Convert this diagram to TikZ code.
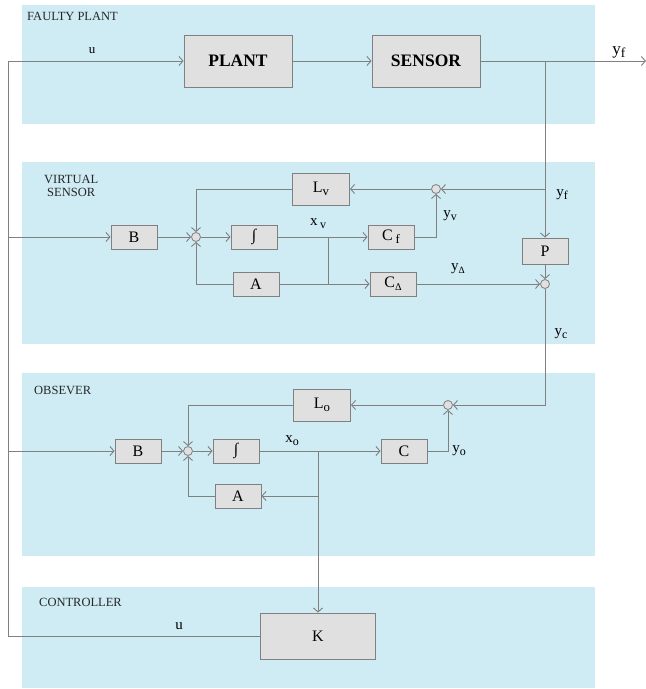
\documentclass[tikz,border=0pt]{standalone}
\usepackage{fontspec}
\setmainfont{Liberation Serif}
\usetikzlibrary{arrows.meta}
\definecolor{panel}{RGB}{207,235,244}
\definecolor{ln}{RGB}{128,128,128}
\definecolor{boxf}{RGB}{224,224,224}
\newcommand\mysb[1]{\raisebox{-0.45ex}{\scalebox{0.8}{#1}}}
\begin{document}
\begin{tikzpicture}[x=1pt,y=-1pt,
  blk/.style={draw=ln, fill=boxf, line width=0.9pt, inner sep=0pt, minimum width=46pt, minimum height=24pt, font=\fontsize{16}{16}\selectfont},
  bigblk/.style={blk, minimum width=108pt, minimum height=52pt, font=\bfseries\fontsize{17.5}{17.5}\selectfont},
  sumc/.style={circle, draw=ln, fill=boxf, line width=0.8pt, minimum size=9pt, inner sep=0pt},
  wire/.style={draw=ln, line width=0.9pt},
  arr/.style={wire, -{Straight Barb[length=4pt,width=9pt]}},
  ttl/.style={anchor=west, inner sep=0pt, text=black!85, font=\fontsize{12.5}{14}\selectfont},
  lbl/.style={inner sep=0pt, font=\fontsize{15}{15}\selectfont}
]
\useasboundingbox (0,0) rectangle (646,689);
% panels
\fill[panel] (22,5) rectangle (595,124);
\fill[panel] (22,162) rectangle (595,344);
\fill[panel] (22,373) rectangle (595,556);
\fill[panel] (22,587) rectangle (595,688);
% titles
\node[ttl] (t1) at (27,16) {FAULTY PLANT};
\node[ttl, align=left] (t2) at (44,186) {VIRTUAL\\[-1pt]\hspace*{3pt}SENSOR};
\node[ttl] (t3) at (34,390) {OBSEVER};
\node[ttl] (t4) at (39,602) {CONTROLLER};
% faulty plant
\node[bigblk] (plant) at (238,61) {PLANT};
\node[bigblk] (sensor) at (426,61) {SENSOR};
\coordinate (uc) at (8,61);
\coordinate (yfout) at (646,61);
% virtual sensor
\node[blk] (Bv) at (134,237) {B};
\node[sumc] (s1) at (196,237) {};
\node[blk] (Iv) at (254,237) {∫};
\node[blk] (Cf) at (391,237) {C\,\mysb{f}};
\node[blk] (Av) at (256,284) {A};
\node[blk] (Cd) at (393,284) {C\mysb{\scalebox{0.8}{Δ}}};
\node[blk, minimum width=57pt, minimum height=32pt] (Lv) at (321,189) {L\mysb{v}};
\node[sumc] (s2) at (436,189) {};
\node[blk, minimum height=26pt] (P) at (545,251) {P};
\node[sumc] (s3) at (545,284) {};
\coordinate (jv) at (328,237);
% observer
\node[blk] (Bo) at (138,451) {B};
\node[sumc] (s5) at (188,451) {};
\node[blk] (Io) at (236,451) {∫};
\node[blk] (Co) at (404,451) {C};
\node[blk] (Ao) at (238,496) {A};
\node[blk, minimum width=57pt, minimum height=32pt] (Lo) at (322,405) {L\mysb{o}};
\node[sumc] (s4) at (448,405) {};
\coordinate (jo) at (318,451);
% controller
\node[blk, minimum width=115pt, minimum height=46pt] (K) at (318,636) {K};
% wires: plant
\draw[wire] (K.west) -- (K.west -| uc) -- (uc);
\draw[arr] (uc) -- (plant);
\draw[arr] (plant) -- (sensor);
\draw[arr] (sensor) -- (yfout);
\draw[arr] (sensor.east -| P) -- (P);
% wires: virtual sensor
\draw[arr] (uc |- Bv) -- (Bv);
\draw[arr] (Bv) -- (s1);
\draw[arr] (s1) -- (Iv);
\draw[arr] (Iv) -- (Cf);
\draw[wire] (jv) -- (jv |- Av);
\draw[arr] (Av) -- (Cd);
\draw[arr] (Av.west) -| (s1);
\draw[arr] (Lv.west) -| (s1);
\draw[arr] (s2) -- (Lv);
\draw[arr] (Cf.east) -| (s2);
\draw[arr] (s2 -| P) -- (s2);
\draw[arr] (P) -- (s3);
\draw[arr] (Cd) -- (s3);
\draw[arr] (s3) |- (s4);
% wires: observer
\draw[arr] (uc |- Bo) -- (Bo);
\draw[arr] (Bo) -- (s5);
\draw[arr] (s5) -- (Io);
\draw[arr] (Io) -- (Co);
\draw[arr] (jo) -- (K);
\draw[arr] (jo |- Ao) -- (Ao);
\draw[arr] (Ao.west) -| (s5);
\draw[arr] (Lo.west) -| (s5);
\draw[arr] (Co.east) -| (s4);
\draw[arr] (s4) -- (Lo);
% labels
\node[lbl, font=\fontsize{13}{13}\selectfont] (lu1) at (92,51) {u};
\node[lbl, font=\fontsize{17}{17}\selectfont] (lyf1) at (619,52) {y\mysb{f}};
\node[lbl] (lxv) at (318,224) {x\,\mysb{v}};
\node[lbl] (lyv) at (450,216) {y\mysb{v}};
\node[lbl] (lyf2) at (562,195) {y\mysb{f}};
\node[lbl] (lyd) at (458,269) {y\mysb{\scalebox{0.8}{Δ}}};
\node[lbl] (lyc) at (561,334) {y\mysb{c}};
\node[lbl] (lxo) at (292,441) {x\mysb{o}};
\node[lbl] (lyo) at (459,451) {y\mysb{o}};
\node[lbl] (lu2) at (179,626) {u};
\end{tikzpicture}
\end{document}
